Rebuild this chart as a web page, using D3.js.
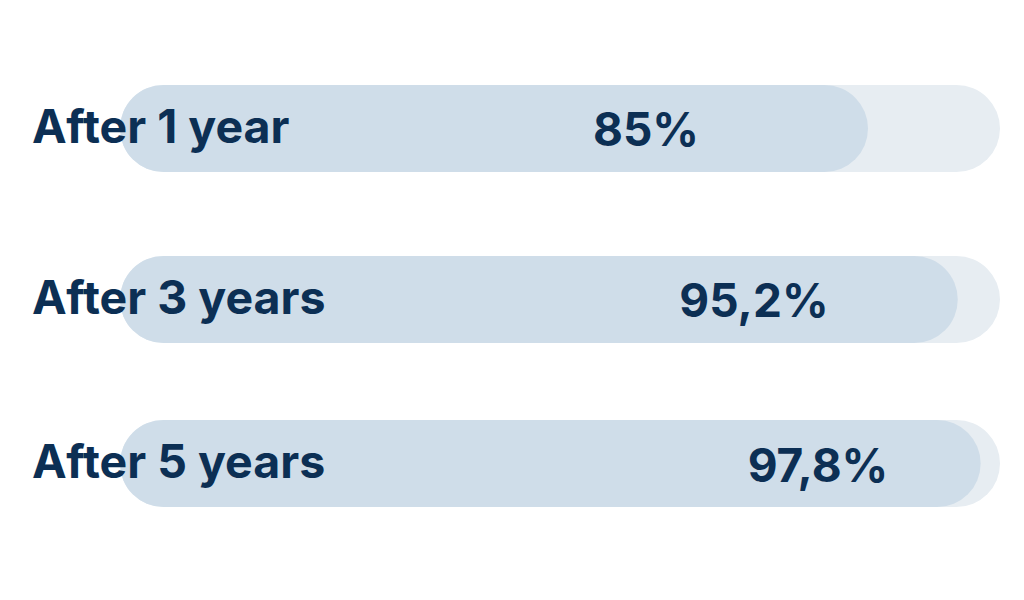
<!DOCTYPE html>
<html><head><meta charset="utf-8">
<script src="https://cdn.jsdelivr.net/npm/d3@7"></script>
<style>html,body{margin:0;padding:0;background:#fff;}svg{display:block;}</style>
</head><body>
<svg id="chart" width="1024" height="600"></svg>
<script>
const categories = ["After 1 year", "After 3 years", "After 5 years"];
const values = [85, 95.2, 97.8];
const valueLabels = ["85%", "95,2%", "97,8%"];

const svg = d3.select("#chart");
const x = d3.scaleLinear().domain([0, 100]).range([120, 1000]);
const yPos = d3.scaleOrdinal().domain(categories).range([128.5, 299.5, 463.5]);
const bh = 87;
const labelX = d3.scaleLinear().domain([85, 95.2, 97.8]).range([646, 754, 818]);

const font = "Inter, 'DejaVu Sans', sans-serif";
const col = "#0c2f54";

const g = svg.selectAll("g.row").data(categories).join("g").attr("class","row");

g.append("rect")
  .attr("x", x(0)).attr("y", d => yPos(d) - bh/2)
  .attr("width", x(100) - x(0)).attr("height", bh)
  .attr("rx", bh/2).attr("fill", "#e7edf2");

g.append("rect")
  .attr("x", x(0)).attr("y", d => yPos(d) - bh/2)
  .attr("width", (d,i) => x(values[i]) - x(0)).attr("height", bh)
  .attr("rx", bh/2).attr("fill", "#cfdde9");

g.append("text")
  .attr("x", 32).attr("y", d => yPos(d) + 14.5)
  .attr("font-family", font).attr("font-weight", 700).attr("font-size", 46.5)
  .attr("fill", col).text(d => d);

g.append("text")
  .attr("x", (d,i) => labelX(values[i])).attr("y", (d,i) => yPos(d) + (i === 2 ? 18.5 : 17.5))
  .attr("text-anchor", "middle")
  .attr("font-family", font).attr("font-weight", 700).attr("font-size", 46)
  .attr("fill", col).text((d,i) => valueLabels[i]);
</script>
</body></html>
